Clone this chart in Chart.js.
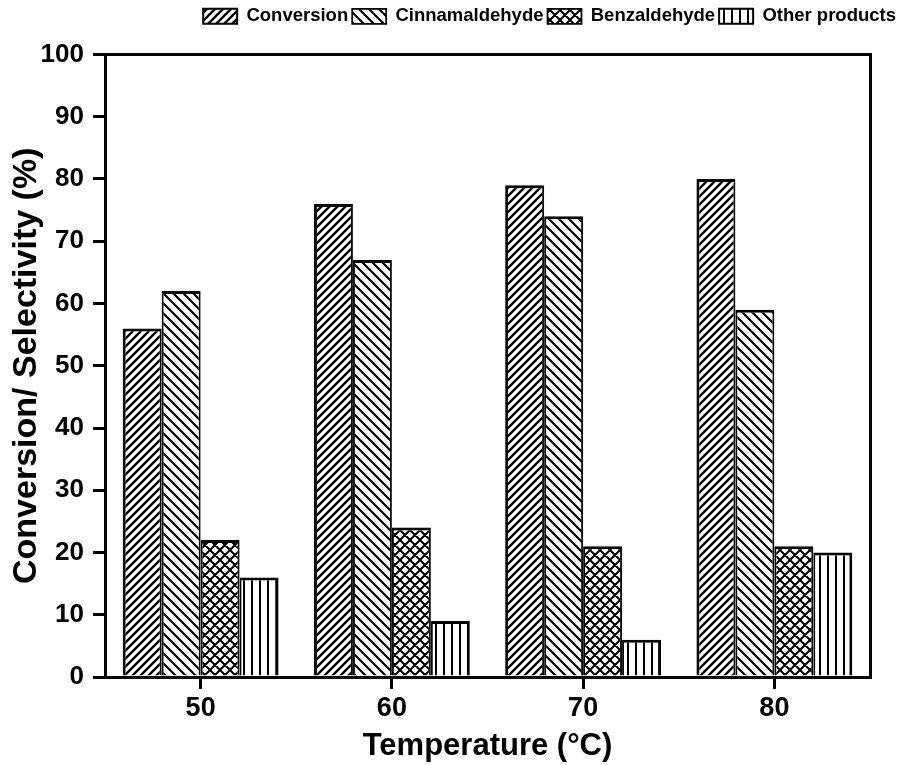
<!DOCTYPE html>
<html>
<head>
<meta charset="utf-8">
<script src="https://cdn.jsdelivr.net/npm/chart.js@4.4.1/dist/chart.umd.min.js"></script>
<style>
  html, body { margin: 0; padding: 0; background: #fff; }
  canvas { display: block; }
</style>
</head>
<body>
<canvas id="chart" width="900" height="765"></canvas>
<script>
// reaction temperature (°C) and conversion / selectivity (%)
const temperatures = ['50', '60', '70', '80'];
const conversion = [56, 76, 79, 80];
const cinnamaldehyde = [62, 67, 74, 59];
const benzaldehyde = [22, 24, 21, 21];
const otherProducts = [16, 9, 6, 20];
const yMin = 0, yMax = 100, yStep = 10;

const FONT = "'Liberation Sans', Arial, sans-serif";

// hatch fills for the black & white bars
function hatch(size, width, draw) {
  const c = document.createElement('canvas');
  c.width = size; c.height = size;
  const g = c.getContext('2d');
  g.fillStyle = '#fff';
  g.fillRect(0, 0, size, size);
  g.strokeStyle = '#000';
  g.lineWidth = width;
  g.beginPath();
  draw(g, size);
  g.stroke();
  return g.createPattern(c, 'repeat');
}
const forward = (g, s) => {
  g.moveTo(0, s); g.lineTo(s, 0);
  g.moveTo(-2, 2); g.lineTo(2, -2);
  g.moveTo(s - 2, s + 2); g.lineTo(s + 2, s - 2);
};
const backward = (g, s) => {
  g.moveTo(0, 0); g.lineTo(s, s);
  g.moveTo(-2, s - 2); g.lineTo(2, s + 2);
  g.moveTo(s - 2, -2); g.lineTo(s + 2, 2);
};
const slashFill = hatch(8, 2.4, forward);
const backslashFill = hatch(10, 2.2, backward);
const crossFill = hatch(10, 2, (g, s) => { forward(g, s); backward(g, s); });
const verticalFill = hatch(8, 2, (g, s) => { g.moveTo(s / 2, 0); g.lineTo(s / 2, s); });

// outer bars of each group get the heavy edge, neighbours share a thinner one
function series(label, data, fill, left, right) {
  return {
    label, data,
    backgroundColor: fill,
    borderColor: '#000',
    borderWidth: { top: 3, bottom: 0, left, right },
    borderSkipped: false,
    categoryPercentage: 0.815,
    barPercentage: 1.0
  };
}

Chart.defaults.font.family = FONT;
Chart.defaults.font.weight = 'bold';
Chart.defaults.color = '#000';

const ctx = document.getElementById('chart').getContext('2d');
new Chart(ctx, {
  type: 'bar',
  data: {
    labels: temperatures,
    datasets: [
      series('Conversion', conversion, slashFill, 3, 2),
      series('Cinnamaldehyde', cinnamaldehyde, backslashFill, 2, 2),
      series('Benzaldehyde', benzaldehyde, crossFill, 2, 2),
      series('Other products', otherProducts, verticalFill, 2, 3)
    ]
  },
  options: {
    responsive: false,
    animation: false,
    devicePixelRatio: 1,
    layout: { padding: { top: 3, left: 0, right: 0, bottom: 0 } },
    plugins: {
      tooltip: { enabled: false },
      legend: {
        position: 'top',
        align: 'end',
        labels: {
          boxWidth: 34,
          boxHeight: 15,
          padding: 4,
          font: { size: 18.5, weight: 'bold' }
        }
      }
    },
    scales: {
      x: {
        grid: { offset: false, drawOnChartArea: false, tickLength: 12, lineWidth: 3, color: '#000' },
        border: { width: 3, color: '#000' },
        ticks: { padding: 3, font: { size: 27, weight: 'bold' } },
        title: { display: true, text: 'Temperature (°C)', padding: { top: 0, bottom: 0 }, font: { size: 31, weight: 'bold' } },
        afterFit: s => { s.height = 88; }
      },
      x2: {
        type: 'category',
        position: 'top',
        labels: temperatures,
        grid: { display: false, drawTicks: false },
        ticks: { display: false },
        border: { width: 3, color: '#000' },
        afterFit: s => { s.height = 19; }
      },
      y: {
        min: yMin, max: yMax,
        ticks: { stepSize: yStep, padding: 9, font: { size: 26, weight: 'bold' } },
        grid: { drawOnChartArea: false, tickLength: 12, lineWidth: 3, color: '#000' },
        border: { width: 3, color: '#000' },
        title: { display: true, text: 'Conversion/ Selectivity (%)', padding: { top: 6, bottom: 0 }, font: { size: 34, weight: 'bold' } },
        afterFit: s => { s.width = 105; }
      },
      y2: {
        position: 'right',
        min: yMin, max: yMax,
        grid: { display: false, drawTicks: false },
        ticks: { display: false },
        border: { width: 3, color: '#000' },
        afterFit: s => { s.width = 30; }
      }
    }
  }
});
</script>
</body>
</html>
